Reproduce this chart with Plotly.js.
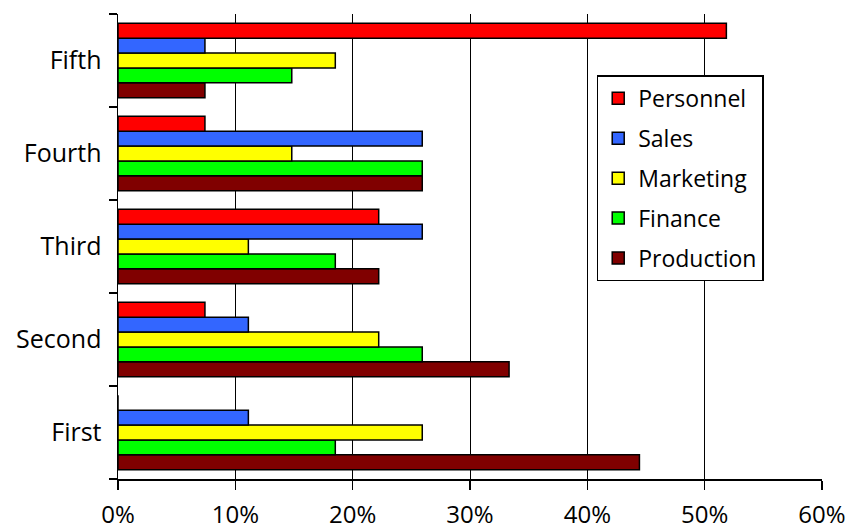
<!DOCTYPE html>
<html>
<head>
<meta charset="utf-8">
<script src="https://cdn.plot.ly/plotly-3.0.1.min.js"></script>
<style>html,body{margin:0;padding:0;background:#fff;}#chart{width:852px;height:532px;}</style>
</head>
<body>
<div id="chart"></div>
<script>
const categories = ["First", "Second", "Third", "Fourth", "Fifth"];
const personnel  = [0,      0.0741, 0.2222, 0.0741, 0.5185];
const sales      = [0.1111, 0.1111, 0.2593, 0.2593, 0.0741];
const marketing  = [0.2593, 0.2222, 0.1111, 0.1481, 0.1852];
const finance    = [0.1852, 0.2593, 0.1852, 0.2593, 0.1481];
const production = [0.4444, 0.3333, 0.2222, 0.2593, 0.0741];
const xTicks = [0, 0.1, 0.2, 0.3, 0.4, 0.5, 0.6];

const FONT = "Open Sans, sans-serif";
function mk(name, vals, color, rank) {
  return {
    type: "bar", orientation: "h", name: name,
    y: categories, x: vals,
    legendgroup: "g" + rank, legendrank: rank,
    marker: {color: color, line: {color: "#000", width: 1.5}},
    hoverinfo: "skip"
  };
}
// order bottom-to-top inside each group
const data = [
  mk("Production", production, "#800000", 5),
  mk("Finance", finance, "#00FF00", 4),
  mk("Marketing", marketing, "#FFFF00", 3),
  mk("Sales", sales, "#3366FF", 2),
  mk("Personnel", personnel, "#FF0000", 1)
];

const layout = {
  width: 852, height: 532,
  paper_bgcolor: "#fff", plot_bgcolor: "#fff",
  margin: {l: 118, r: 30, t: 14, b: 53},
  barmode: "group", bargap: 0.2, bargroupgap: 0,
  font: {family: FONT, size: 25, color: "#000"},
  showlegend: true,
  legend: {
    x: 0.68, y: 0.868, xanchor: "left", yanchor: "top",
    traceorder: "grouped", tracegroupgap: 7,
    bordercolor: "#000", borderwidth: 1.5, bgcolor: "#fff",
    font: {family: FONT, size: 23, color: "#000"}
  },
  xaxis: {
    range: [0, 0.6], tickvals: xTicks, tickformat: ".0%",
    showgrid: true, gridcolor: "#000", gridwidth: 1,
    zeroline: false, showline: true, linecolor: "#000", linewidth: 1.5,
    ticks: "outside", ticklen: 9, tickwidth: 1.5, tickcolor: "#000",
    ticklabelstandoff: 5,
    tickfont: {family: FONT, size: 24, color: "#000"},
    fixedrange: true
  },
  yaxis: {
    type: "category", categoryarray: categories, range: [-0.5, 4.5],
    showgrid: false, zeroline: false, showline: true, linecolor: "#000", linewidth: 1.5,
    ticks: "outside", tickson: "boundaries", ticklen: 8, tickwidth: 1.5, tickcolor: "#000",
    ticklabelstandoff: 10,
    tickfont: {family: FONT, size: 25, color: "#000"},
    fixedrange: true
  }
};
Plotly.newPlot("chart", data, layout, {displayModeBar: false, staticPlot: true});
</script>
</body>
</html>
